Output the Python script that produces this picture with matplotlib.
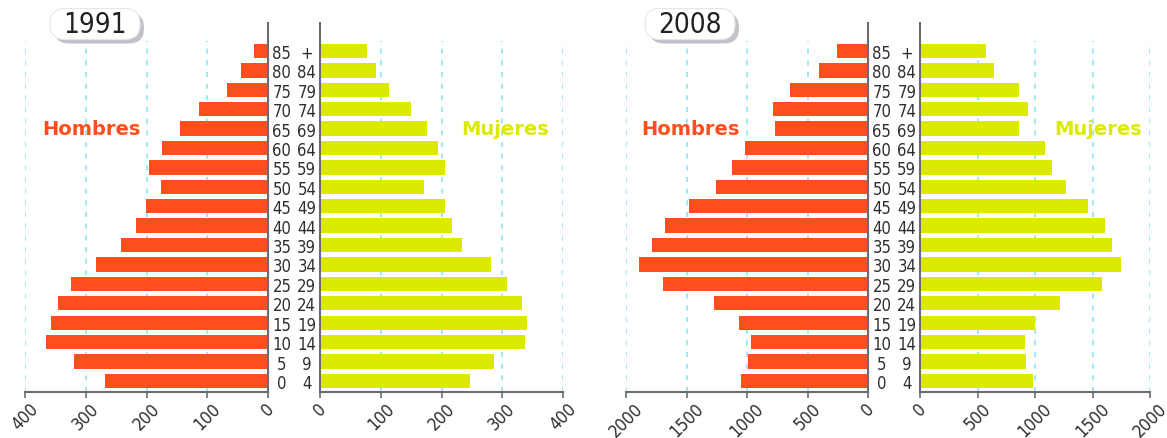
import numpy as np
import matplotlib
matplotlib.use("Agg")
import matplotlib.pyplot as plt
from matplotlib.patches import FancyBboxPatch

W, H = 1167, 439

# age groups, bottom to top
age_start = ["0", "5", "10", "15", "20", "25", "30", "35", "40",
             "45", "50", "55", "60", "65", "70", "75", "80", "85"]
age_end = ["4", "9", "14", "19", "24", "29", "34", "39", "44",
           "49", "54", "59", "64", "69", "74", "79", "84", "+"]

# 1991 (miles)
hombres_1991 = [268, 319, 365, 357, 345, 324, 283, 242, 217,
                201, 176, 196, 174, 145, 113, 67, 44, 23]
mujeres_1991 = [247, 286, 338, 340, 332, 308, 282, 234, 217,
                206, 171, 206, 195, 176, 150, 113, 93, 77]

# 2008
hombres_2008 = [1050, 989, 970, 1066, 1273, 1692, 1895, 1782, 1675,
                1482, 1256, 1124, 1014, 769, 788, 645, 402, 254]
mujeres_2008 = [980, 926, 912, 1000, 1216, 1582, 1750, 1673, 1611,
                1460, 1267, 1148, 1085, 858, 938, 858, 645, 574]

ticks_1991 = [0, 100, 200, 300, 400]
ticks_2008 = [0, 500, 1000, 1500, 2000]

ORANGE = "#ff4e1e"
YELLOW = "#dcea00"
GRID = "#8fe3f5"
AXIS = "#6b6b72"
TXT = "#2e2e33"
FONT = dict(family="DejaVu Sans", stretch="condensed")


def px_axes(fig, x0, x1, y_top=24, y_bot=393):
    return fig.add_axes([x0 / W, (H - y_bot) / H, (x1 - x0) / W, (y_bot - y_top) / H])


def half(ax, values, color, ticks, side, labels):
    y = np.arange(len(values))
    ax.barh(y, values, height=0.74, color=color, zorder=2)
    ax.set_ylim(-0.57, 18.44)
    ax.set_xlim(0, ticks[-1])
    if side == "left":
        ax.invert_xaxis()
    # dashed guide lines
    ax.vlines(ticks[1:], -0.57, 17.5, colors=GRID, linestyles=(0, (3, 4)),
              linewidth=1.2, zorder=1)
    for s in ax.spines.values():
        s.set_visible(False)
    spine = "right" if side == "left" else "left"
    ax.spines[spine].set_visible(True)
    ax.spines["bottom"].set_visible(True)
    for s in (spine, "bottom"):
        ax.spines[s].set_color(AXIS)
        ax.spines[s].set_linewidth(1.5)
    ax.set_xticks(ticks)
    ax.set_xticklabels([str(t) for t in ticks], rotation=45, ha="center",
                       va="top", fontsize=12.5, color=TXT, **FONT)
    ax.tick_params(axis="x", length=4, width=1.2, color=AXIS, pad=1)
    ax.set_yticks(y)
    ax.set_yticklabels(labels, fontsize=12, color=TXT, ha="center", **FONT)
    if side == "left":
        ax.yaxis.tick_right()
        ax.tick_params(axis="y", length=0, pad=10)
    else:
        ax.yaxis.tick_left()
        ax.tick_params(axis="y", length=0, pad=9.5)
    ax.set_facecolor("none")


def title_box(fig, cx, cy, text):
    w, h = 90, 31
    x0, y0 = cx - w / 2, H - cy - h / 2
    shadow = FancyBboxPatch((x0 + 4, y0 - 4), w, h,
                            boxstyle="round,pad=0,rounding_size=15",
                            transform=None, facecolor="#c2c2c8",
                            edgecolor="none", zorder=0)
    box = FancyBboxPatch((x0, y0), w, h,
                         boxstyle="round,pad=0,rounding_size=15",
                         transform=None, facecolor="white",
                         edgecolor="#e6e6ea", linewidth=0.8, zorder=1)
    fig.patches.extend([shadow, box])
    fig.text(cx / W, 1 - cy / H, text, ha="center", va="center",
             fontsize=20, color="#222226", **FONT)


fig = plt.figure(figsize=(W / 100, H / 100), dpi=100)

a = px_axes(fig, 25, 268)
half(a, hombres_1991, ORANGE, ticks_1991, "left", age_start)
b = px_axes(fig, 320, 563)
half(b, mujeres_1991, YELLOW, ticks_1991, "right", age_end)
c = px_axes(fig, 626, 868)
half(c, hombres_2008, ORANGE, ticks_2008, "left", age_start)
d = px_axes(fig, 920, 1150)
half(d, mujeres_2008, YELLOW, ticks_2008, "right", age_end)

title_box(fig, 95, 25, "1991")
title_box(fig, 690, 25, "2008")

for x, t, col in [(91, "Hombres", ORANGE), (505, "Mujeres", YELLOW),
                  (690, "Hombres", ORANGE), (1098, "Mujeres", YELLOW)]:
    fig.text(x / W, 1 - 130 / H, t, ha="center", va="center", fontsize=14,
             fontweight="bold", color=col)

fig.savefig("out.png", dpi=100)
